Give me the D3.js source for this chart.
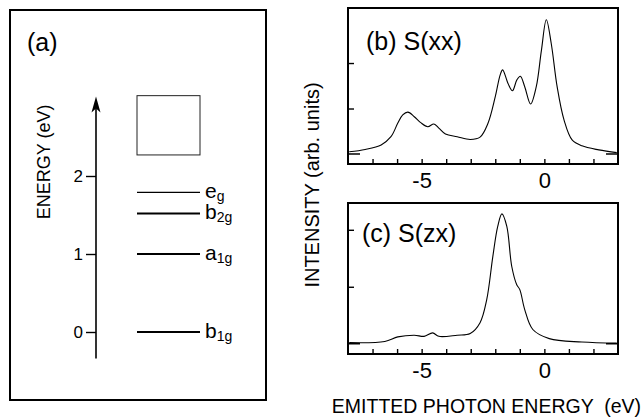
<!DOCTYPE html>
<html>
<head>
<meta charset="utf-8">
<script src="https://cdn.jsdelivr.net/npm/d3@7/dist/d3.min.js"></script>
<style>
  html, body { margin: 0; padding: 0; background: #fff; }
  svg { display: block; font-family: "Liberation Sans", Arial, Helvetica, sans-serif; }
</style>
</head>
<body>
<svg id="chart" width="643" height="420"></svg>
<script>
// ---- data ----
const levelNames = ['e', 'b', 'a', 'b'];
const levelSubs = ['g', '2g', '1g', '1g'];
const levelEnergies = [1.79, 1.52, 1.0, 0.0];
const levelWidths = [1.2, 2, 2, 2];
const bandEnergy = [2.27, 3.03];
const energyTicks = [0, 1, 2];
const arrowEnergy = [-0.34, 3.02];

const photonEnergyXX = [-7.95, -7.3, -6.65, -6.25, -5.97, -5.77, -5.56, -5.3, -5.04, -4.75, -4.5, -4.3, -4.03, -3.55, -3.02, -2.62, -2.3, -2.0, -1.8, -1.7, -1.48, -1.3, -1.12, -0.98, -0.8, -0.56, -0.33, -0.12, 0.08, 0.28, 0.52, 0.8, 1.13, 1.53, 2.22, 2.95];
const intensityXX = [0.05, 0.1, 0.2, 0.38, 0.68, 0.86, 0.92, 0.82, 0.69, 0.6, 0.66, 0.57, 0.44, 0.38, 0.32, 0.37, 0.67, 1.26, 1.74, 1.85, 1.55, 1.39, 1.63, 1.71, 1.48, 1.1, 1.48, 2.28, 2.95, 2.43, 1.48, 0.75, 0.31, 0.18, 0.09, 0.03];

const photonEnergyZX = [-7.95, -6.5, -5.97, -5.3, -4.9, -4.55, -4.3, -3.55, -3.02, -2.62, -2.35, -2.1, -1.9, -1.73, -1.53, -1.33, -1.13, -1.0, -0.8, -0.47, 0.2, 1.53, 2.95];
const intensityZX = [0.02, 0.04, 0.12, 0.15, 0.13, 0.19, 0.13, 0.15, 0.18, 0.37, 0.77, 1.53, 2.06, 2.28, 2.06, 1.36, 1.04, 0.95, 0.6, 0.25, 0.09, 0.03, 0.01];

const xTicks = [-7, -6, -5, -4, -3, -2, -1, 0, 1, 2];
const xLabelled = [-5, 0];
const yTicks = [1, 2];

// ---- layout ----
const FONT_PANEL = 25;
const FONT_TICK = 22;
const FONT_TITLE = 19.5;
const X_DOMAIN = [-8, 3];
const PLOT_LEFT = 348;
const PLOT_RIGHT = 618;

const svg = d3.select('#chart');

// ================= panel (a) =================
const boxA = { x0: 10, y0: 10, x1: 266, y1: 400 };
svg.append('rect')
  .attr('x', boxA.x0).attr('y', boxA.y0)
  .attr('width', boxA.x1 - boxA.x0).attr('height', boxA.y1 - boxA.y0)
  .attr('fill', 'none').attr('stroke', '#000').attr('stroke-width', 2);

const eScale = d3.scaleLinear().domain([0, 2]).range([332, 176]);
const axisX = 96;
const levelX0 = 137;
const levelX1 = 200;

// energy axis with arrow head drawn as a path
const yTip = eScale(arrowEnergy[1]);
svg.append('line')
  .attr('x1', axisX).attr('x2', axisX)
  .attr('y1', eScale(arrowEnergy[0])).attr('y2', yTip + 8)
  .attr('stroke', '#000').attr('stroke-width', 1.6);
svg.append('path')
  .attr('d', d3.line()([[axisX, yTip], [axisX + 4.5, yTip + 16], [axisX, yTip + 12], [axisX - 4.5, yTip + 16]]) + 'Z')
  .attr('fill', '#000');

const eAxis = d3.axisLeft(eScale)
  .tickValues(energyTicks)
  .tickFormat(d3.format('d'))
  .tickSize(10)
  .tickPadding(3);
const eAxisG = svg.append('g')
  .attr('transform', `translate(${axisX},0)`)
  .call(eAxis);
eAxisG.select('.domain').remove();
eAxisG.selectAll('line').attr('stroke-width', 1.4);
eAxisG.selectAll('text')
  .attr('font-size', 17).attr('fill', '#000')
  .attr('font-family', '"Liberation Sans", Arial, sans-serif');

svg.append('text')
  .attr('transform', `translate(50,${eScale(2.18)}) rotate(-90)`)
  .attr('text-anchor', 'middle')
  .attr('font-size', 18)
  .text('ENERGY (eV)');

svg.append('text')
  .attr('x', 27).attr('y', 51)
  .attr('font-size', FONT_PANEL)
  .text('(a)');

// continuum band (square)
svg.append('rect')
  .attr('x', levelX0).attr('y', eScale(bandEnergy[1]))
  .attr('width', levelX1 - levelX0)
  .attr('height', eScale(bandEnergy[0]) - eScale(bandEnergy[1]))
  .attr('fill', 'none').attr('stroke', '#222').attr('stroke-width', 1);

const levels = levelEnergies.map((e, i) => ({ e, name: levelNames[i], sub: levelSubs[i], w: levelWidths[i] }));

svg.selectAll('.level')
  .data(levels)
  .enter()
  .append('line')
  .attr('class', 'level')
  .attr('x1', levelX0).attr('x2', levelX1)
  .attr('y1', d => eScale(d.e)).attr('y2', d => eScale(d.e))
  .attr('stroke', '#000')
  .attr('stroke-width', d => d.w);

const lbl = svg.selectAll('.level-label')
  .data(levels)
  .enter()
  .append('text')
  .attr('class', 'level-label')
  .attr('x', 205)
  .attr('y', d => eScale(d.e) + 6)
  .attr('font-size', 21);
lbl.append('tspan').text(d => d.name);
lbl.append('tspan')
  .attr('font-size', 14)
  .attr('dy', 3)
  .text(d => d.sub);

// ================= panels (b) and (c) =================
const xScale = d3.scaleLinear().domain(X_DOMAIN).range([PLOT_LEFT, PLOT_RIGHT]);

function drawSpectrum(cfg) {
  const yScale = d3.scaleLinear().domain(cfg.yDomain).range([cfg.y1, cfg.y0]);
  const g = svg.append('g');

  const pts = cfg.xs.map((x, i) => [x, cfg.ys[i]]);
  const line = d3.line()
    .x(d => xScale(d[0]))
    .y(d => yScale(d[1]))
    .curve(d3.curveCatmullRom.alpha(0.5));

  g.append('path')
    .datum(pts)
    .attr('d', line)
    .attr('fill', 'none')
    .attr('stroke', '#000')
    .attr('stroke-width', 1.1);

  // zero markers at both sides
  [[PLOT_LEFT, PLOT_LEFT + 12], [PLOT_RIGHT - 12, PLOT_RIGHT]].forEach(([a, b]) => {
    g.append('line')
      .attr('x1', a).attr('x2', b)
      .attr('y1', yScale(0)).attr('y2', yScale(0))
      .attr('stroke', '#000').attr('stroke-width', 1.5);
  });

  const yAxis = d3.axisLeft(yScale).tickValues(yTicks).tickSize(-6).tickFormat('');
  const yg = g.append('g').attr('transform', `translate(${PLOT_LEFT},0)`).call(yAxis);
  yg.select('.domain').remove();
  yg.selectAll('line').attr('stroke-width', 1.4);

  const xAxis = d3.axisBottom(xScale)
    .tickValues(xTicks)
    .tickSize(-5)
    .tickPadding(8)
    .tickFormat(d => xLabelled.includes(d) ? String(d) : '');
  const xg = g.append('g').attr('transform', `translate(0,${cfg.y1})`).call(xAxis);
  xg.select('.domain').remove();
  xg.selectAll('line').attr('stroke-width', 1.4);
  xg.selectAll('text')
    .attr('font-size', FONT_TICK).attr('fill', '#000')
    .attr('font-family', '"Liberation Sans", Arial, sans-serif');

  g.append('rect')
    .attr('x', PLOT_LEFT).attr('y', cfg.y0)
    .attr('width', PLOT_RIGHT - PLOT_LEFT).attr('height', cfg.y1 - cfg.y0)
    .attr('fill', 'none').attr('stroke', '#000').attr('stroke-width', 2);

  g.append('text')
    .attr('x', cfg.labelX).attr('y', cfg.labelY)
    .attr('font-size', FONT_PANEL)
    .text(cfg.label);
}

drawSpectrum({
  xs: photonEnergyXX, ys: intensityXX,
  yDomain: [-0.22, 3.21], y0: 8, y1: 164,
  label: '(b) S(xx)', labelX: 366, labelY: 50
});

drawSpectrum({
  xs: photonEnergyZX, ys: intensityZX,
  yDomain: [-0.18, 2.47], y0: 203, y1: 354,
  label: '(c) S(zx)', labelX: 362, labelY: 242
});

svg.append('text')
  .attr('transform', 'translate(319,185) rotate(-90)')
  .attr('text-anchor', 'middle')
  .attr('font-size', 20)
  .text('INTENSITY (arb. units)');

svg.append('text')
  .attr('x', 641).attr('y', 413)
  .attr('text-anchor', 'end')
  .attr('font-size', FONT_TITLE)
  .style('white-space', 'pre')
  .text('EMITTED PHOTON ENERGY  (eV)');
</script>
</body>
</html>
